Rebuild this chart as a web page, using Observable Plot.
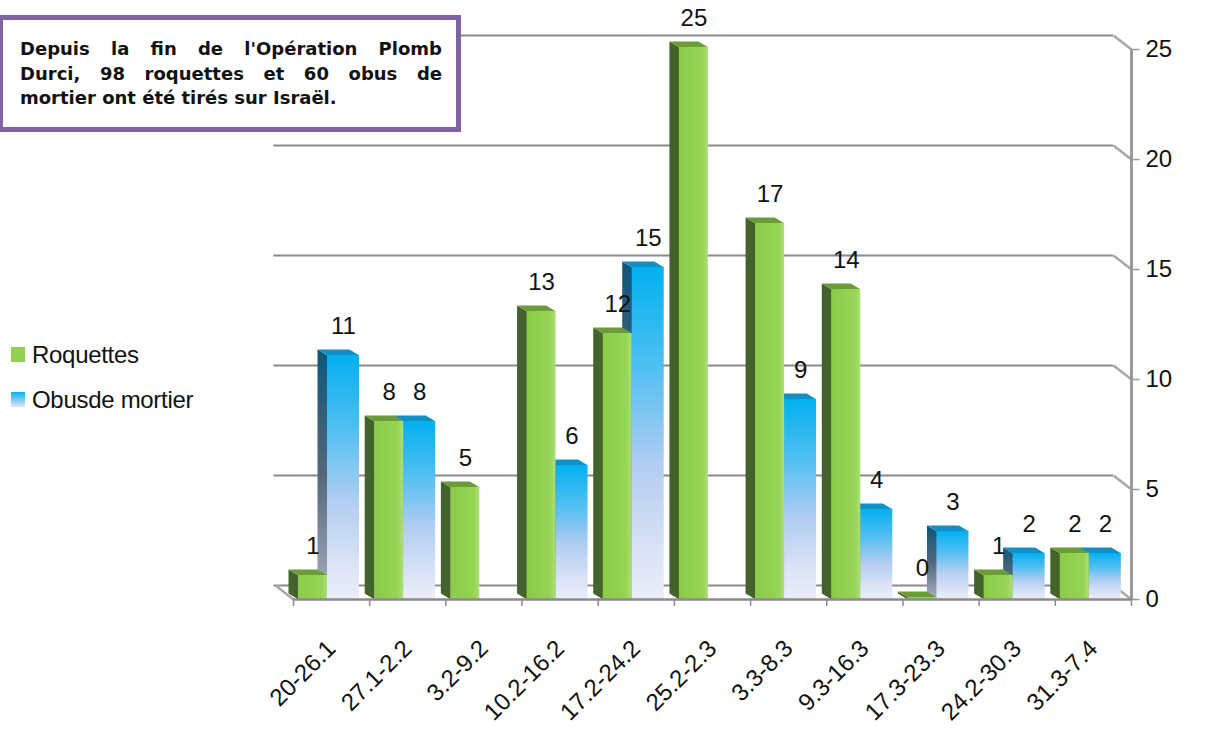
<!DOCTYPE html>
<html>
<head>
<meta charset="utf-8">
<script src="https://cdn.jsdelivr.net/npm/d3@7"></script>
<script src="https://cdn.jsdelivr.net/npm/@observablehq/plot@0.6"></script>
<style>
  body { margin: 0; background: #fff; }
  #wrap { position: relative; width: 1219px; height: 749px; overflow: hidden; font-family: "Liberation Sans", Arial, sans-serif; }
  #chart { position: absolute; left: 0; top: 0; }
  #title { position: absolute; left: -2px; top: 15px; width: 463px; height: 117px; box-sizing: border-box;
    border: 5px solid #8064a2; background: #fff; padding: 17px 14px 0 17px;
    font-family: "DejaVu Sans", Verdana, sans-serif; font-weight: bold; font-size: 18px; line-height: 24.5px; color: #111; }
  #title .j { text-align: justify; text-align-last: justify; white-space: nowrap; }
  #title .l { text-align: left; white-space: nowrap; }
  .leg { position: absolute; left: 11px; height: 26px; line-height: 26px; font-size: 24px; color: #111; letter-spacing: -0.3px; }
  .leg .sw { position: absolute; left: 0; top: 5px; width: 14px; height: 15px; }
  .leg .tx { position: absolute; left: 21px; top: 0; white-space: nowrap; }
</style>
</head>
<body>
<div id="wrap">
  <div id="chart"></div>
  <div id="title">
    <div class="j">Depuis la fin de l'Opération Plomb</div>
    <div class="j">Durci, 98 roquettes et 60 obus de</div>
    <div class="l">mortier ont été tirés sur Israël.</div>
  </div>
  <div class="leg" style="top:342px"><div class="sw" style="background:#92d050"></div><div class="tx">Roquettes</div></div>
  <div class="leg" style="top:387px"><div class="sw" style="background:linear-gradient(#0db2ef,#dfe5f6)"></div><div class="tx">Obusde mortier</div></div>
</div>
<script>
// ---- data ----
const categories = ["20-26.1","27.1-2.2","3.2-9.2","10.2-16.2","17.2-24.2","25.2-2.3","3.3-8.3","9.3-16.3","17.3-23.3","24.2-30.3","31.3-7.4"];
const roquettes = [1, 8, 5, 13, 12, 25, 17, 14, 0, 1, 2];
const obus      = [11, 8, null, 6, 15, null, 9, 4, 3, 2, 2];
const yTicks = [0, 5, 10, 15, 20, 25];
const seriesNames = ["Roquettes", "Obus de mortier"];

// ---- layout ----
const W = 1219, H = 749;
const mL = 293, mR = 88, mT = 49, mB = 150;
const PX = (W - mL - mR) / categories.length;   // px per x unit
const PY = (H - mT - mB) / 25;                   // px per y unit
const wallDX = -18 / PX, wallDY = 14 / PY;       // back wall offset in data units
const barDX = -10 / PX, barDY = 6 / PY;          // bar depth offset in data units
const G0 = 5 / PX, G1 = 34 / PX, B1 = 66 / PX;   // bar front-face extents within band
const BAR_SHIFT = -2;
const BASE = -2 / PY;                            // small plinth below each bar

const bars = [];
categories.forEach((c, i) => {
  if (roquettes[i] != null) bars.push({s: "R", i, v: roquettes[i], a: i + G0, b: i + G1});
  if (obus[i] != null) bars.push({s: "O", i, v: obus[i], a: i + G1, b: i + B1});
});
function sidePts(list) {
  return list.flatMap((d, k) => [
    {id: k, x: d.a, y: BASE}, {id: k, x: d.a, y: d.v},
    {id: k, x: d.a + barDX, y: d.v + barDY}, {id: k, x: d.a + barDX, y: BASE + barDY}
  ]);
}
function topPts(list) {
  return list.flatMap((d, k) => [
    {id: k, x: d.a, y: d.v}, {id: k, x: d.b, y: d.v},
    {id: k, x: d.b + barDX, y: d.v + barDY}, {id: k, x: d.a + barDX, y: d.v + barDY}
  ]);
}
const R = bars.filter(d => d.s === "R");
const O = bars.filter(d => d.s === "O");

const gridColor = "#8a8a8a";
const chart = Plot.plot({
  width: W, height: H,
  marginLeft: mL, marginRight: mR, marginTop: mT, marginBottom: mB,
  x: {domain: [0, categories.length], axis: null},
  y: {domain: [0, 25], axis: null},
  style: {fontFamily: "'Liberation Sans', Arial, sans-serif", color: "#111", background: "transparent"},
  marks: [
    // back wall grid lines
    Plot.ruleY(yTicks, {x1: wallDX - 0.02, x2: categories.length + wallDX, y: d => d + wallDY, stroke: gridColor, strokeWidth: 2}),
    // right diagonals
    Plot.link(yTicks, {x1: categories.length + wallDX, y1: d => d + wallDY, x2: categories.length, y2: d => d, stroke: "#a8a8a8", strokeWidth: 2.5}),
    // left floor diagonal
    Plot.link([0], {x1: wallDX, y1: wallDY, x2: 0, y2: 0, stroke: "#a8a8a8", strokeWidth: 2.5}),
    // right axis
    Plot.ruleX([categories.length], {y1: 0, y2: 25, stroke: "#9a9a9a", strokeWidth: 3}),
    Plot.link(yTicks, {x1: categories.length, x2: categories.length + 8 / PX, y1: d => d, y2: d => d, stroke: "#9a9a9a", strokeWidth: 1.5}),
    Plot.text(yTicks, {x: categories.length, y: d => d, dx: 14, text: d => String(d), textAnchor: "start", fontSize: 24, fill: "#111"}),
    // blue bars
    Plot.line(sidePts(O), {x: "x", y: "y", z: "id", fill: "url(#blueSide)", stroke: null, curve: "linear-closed", dy: BAR_SHIFT}),
    Plot.line(topPts(O), {x: "x", y: "y", z: "id", fill: "#1190c6", stroke: null, curve: "linear-closed", dy: BAR_SHIFT}),
    Plot.rect(O, {x1: "a", x2: "b", y1: BASE, y2: "v", fill: "url(#blueFront)", dy: BAR_SHIFT}),
    // green bars
    Plot.line(sidePts(R), {x: "x", y: "y", z: "id", fill: "#44632a", stroke: null, curve: "linear-closed", dy: BAR_SHIFT}),
    Plot.line(topPts(R), {x: "x", y: "y", z: "id", fill: "#6c9c38", stroke: null, curve: "linear-closed", dy: BAR_SHIFT}),
    Plot.rect(R, {x1: "a", x2: "b", y1: BASE, y2: "v", fill: "url(#greenFront)", dy: BAR_SHIFT}),
    // bottom axis
    Plot.ruleY([0], {x1: 0, x2: categories.length, stroke: gridColor, strokeWidth: 2.5}),
    Plot.ruleX(d3.range(categories.length + 1), {y1: 0, y2: -7 / PY, stroke: gridColor, strokeWidth: 1.5}),
    // category labels
    Plot.text(categories, {x: (d, i) => i + 0.5, y: 0, text: d => d, rotate: -45, textAnchor: "end", dy: 45, fontSize: 24, fill: "#111"}),
    // value labels
    Plot.text(bars, {x: d => (d.a + d.b) / 2, y: "v", text: d => String(d.v), dy: -29 + BAR_SHIFT, fontSize: 24, fill: "#111"})
  ]
});

const defs = d3.select(chart).insert("defs", ":first-child");
const bf = defs.append("linearGradient").attr("id", "blueFront").attr("x1", 0).attr("y1", 0).attr("x2", 0).attr("y2", 1);
[[0, "#03b0f0"], [0.3, "#4fbff2"], [0.6, "#b2cdf1"], [0.85, "#dae2f6"], [1, "#ebeefa"]].forEach(([o, c]) => bf.append("stop").attr("offset", o).attr("stop-color", c));
const bs = defs.append("linearGradient").attr("id", "blueSide").attr("x1", 0).attr("y1", 0).attr("x2", 0).attr("y2", 1);
[[0, "#10557a"], [0.5, "#55677c"], [1, "#a9afbf"]].forEach(([o, c]) => bs.append("stop").attr("offset", o).attr("stop-color", c));
const gf = defs.append("linearGradient").attr("id", "greenFront").attr("x1", 0).attr("y1", 0).attr("x2", 1).attr("y2", 0);
[[0, "#8ccb4a"], [0.8, "#95d455"], [1, "#aede77"]].forEach(([o, c]) => gf.append("stop").attr("offset", o).attr("stop-color", c));

document.getElementById("chart").appendChild(chart);
</script>
</body>
</html>
